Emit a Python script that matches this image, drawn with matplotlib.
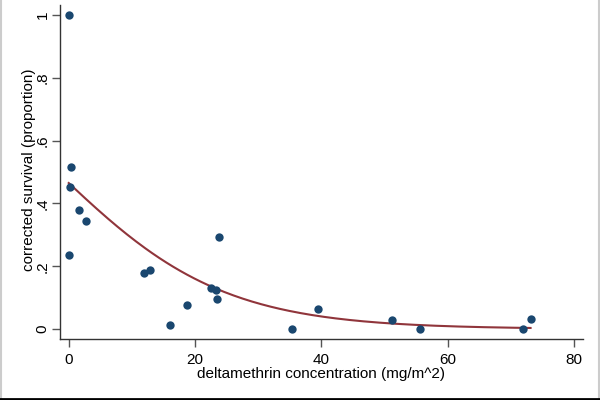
import numpy as np
import matplotlib
matplotlib.use("Agg")
import matplotlib.pyplot as plt
from matplotlib.lines import Line2D

plt.rcParams['font.family'] = ['Liberation Sans', 'DejaVu Sans']

# Data
concentration = [0.0, 0.4, 0.2, 0.05, 1.6, 2.7, 11.9, 12.9, 16.1, 18.7,
                 22.5, 23.3, 23.4, 23.8, 35.3, 39.4, 51.2, 55.6, 71.9, 73.1]
survival = [1.0, 0.517, 0.453, 0.237, 0.379, 0.344, 0.178, 0.188, 0.013, 0.076,
            0.131, 0.124, 0.096, 0.294, 0.0, 0.064, 0.029, 0.0, 0.0, 0.031]

# fitted logistic curve coefficients
fit_intercept = -0.14
fit_slope = -0.076

x_ticks = [0, 20, 40, 60, 80]
y_ticks = [0, 0.2, 0.4, 0.6, 0.8, 1.0]
y_tick_labels = ["0", ".2", ".4", ".6", ".8", "1"]

fig = plt.figure(figsize=(6, 4), dpi=100)
fig.patch.set_facecolor("white")
ax = fig.add_axes([59.5/600, 1-339/400, (583-59.5)/600, (339-5)/400])

ax.scatter(concentration, survival, s=36, color="#1a476f", zorder=3, linewidths=0)

xfit = np.linspace(min(concentration), max(concentration), 200)
yfit = 1/(1+np.exp(-(fit_intercept + fit_slope*xfit)))
ax.plot(xfit, yfit, color="#90353b", lw=1.5, zorder=2)

ax.set_xlim(-1.46, 81.4)
ax.set_ylim(-0.0318, 1.032)
ax.set_xticks(x_ticks)
ax.set_yticks(y_ticks)
ax.set_yticklabels(y_tick_labels, rotation=90, va="center")
for s in ["top", "right"]:
    ax.spines[s].set_visible(False)
for s in ["left", "bottom"]:
    ax.spines[s].set_color("#333333")
    ax.spines[s].set_linewidth(1.0)
ax.tick_params(axis="both", length=6, width=1, color="#555555", labelsize=11)
ax.tick_params(axis="x", pad=4)
ax.tick_params(axis="y", pad=1)
ax.set_xlabel("deltamethrin concentration (mg/m^2)", fontsize=11, labelpad=0)
ax.set_ylabel("corrected survival (proportion)", fontsize=11)
ax.yaxis.set_label_coords(-(59.5-36)/523.5, (339-170)/334)

# outer frame lines
fig.add_artist(Line2D([0.5/600, 0.5/600], [0, 1], color="#cccccc", lw=1.5, transform=fig.transFigure))
fig.add_artist(Line2D([599/600, 599/600], [0, 1], color="#cccccc", lw=1.5, transform=fig.transFigure))
fig.add_artist(Line2D([0, 1], [1/400, 1/400], color="black", lw=2, transform=fig.transFigure))

fig.savefig("out.png", dpi=100)
